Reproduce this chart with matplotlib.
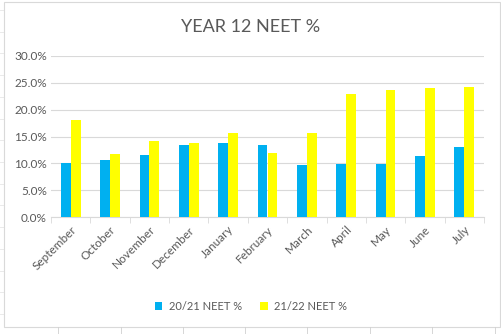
import matplotlib.pyplot as plt
import numpy as np
from matplotlib.ticker import FuncFormatter

months = ['September', 'October', 'November', 'December', 'January', 'February',
          'March', 'April', 'May', 'June', 'July']
neet_2021 = [10.0, 10.6, 11.5, 13.5, 13.7, 13.5, 9.6, 9.8, 9.8, 11.3, 13.0]
neet_2122 = [18.0, 11.7, 14.1, 13.8, 15.6, 11.9, 15.6, 22.9, 23.6, 24.1, 24.3]
series_names = ['20/21 NEET %', '21/22 NEET %']

plt.rcParams['font.family'] = ['Lato', 'DejaVu Sans']
grey = '#595959'

fig = plt.figure(figsize=(5.02, 3.34), dpi=100)

# faint spreadsheet cell lines behind the chart
for y in [0.06, 0.125, 0.19, 0.255, 0.32, 0.385, 0.45, 0.515, 0.58, 0.645, 0.71, 0.775, 0.84, 0.905, 0.97]:
    fig.add_artist(plt.Line2D([0, 1], [y, y], color='#e6e6e6', lw=0.6, zorder=0))
for px in [58, 121, 183, 245, 307, 370, 432, 495]:
    fig.add_artist(plt.Line2D([px / 502, px / 502], [0, 0.02], color='#d0d0d0', lw=0.6))
frame = plt.Rectangle((0.008, 0.02), 0.988, 0.975, transform=fig.transFigure,
                      facecolor='white', edgecolor='#d9d9d9', lw=0.8, zorder=1)
fig.add_artist(frame)

ax = fig.add_axes([51 / 502, 1 - 217 / 334, 433 / 502, 161 / 334])
ax.set_zorder(2)
ax.patch.set_alpha(0)

x = np.arange(len(months))
w = 0.25
ax.bar(x - w / 2, neet_2021, w, color='#00b0f0', label=series_names[0], zorder=3)
ax.bar(x + w / 2, neet_2122, w, color='#ffff00', label=series_names[1], zorder=3)

ax.set_xlim(-0.5, len(months) - 0.5)
ax.set_ylim(0, 30)
ax.set_yticks(np.arange(0, 31, 5))
ax.yaxis.set_major_formatter(FuncFormatter(lambda v, p: f'{v:.1f}%'))
ax.yaxis.grid(True, color='#d9d9d9', lw=0.8)
ax.set_axisbelow(True)

ax.set_xticks(x)
ax.set_xticklabels(months, rotation=45, ha='right', rotation_mode='anchor')
ax.set_xticks(np.arange(-0.5, len(months)), minor=True)
ax.tick_params(axis='x', which='major', length=0, colors=grey, labelsize=8.5, pad=5)
ax.tick_params(axis='x', which='minor', length=4, color='#d9d9d9')
ax.tick_params(axis='y', length=0, colors=grey, labelsize=8.5, pad=3)

for s in ['top', 'right', 'left']:
    ax.spines[s].set_visible(False)
ax.spines['bottom'].set_color('#d9d9d9')

fig.text(0.5, 1 - 27 / 334, 'YEAR 12 NEET %', ha='center', va='center',
         fontsize=13, color=grey, zorder=3)

fig.legend(loc='center', bbox_to_anchor=(0.5, 1 - 306 / 334), ncol=2, frameon=False,
           fontsize=8, labelcolor=grey, handlelength=0.7, handleheight=0.7,
           columnspacing=1.6, handletextpad=0.6)

fig.savefig('out.png', dpi=100)
